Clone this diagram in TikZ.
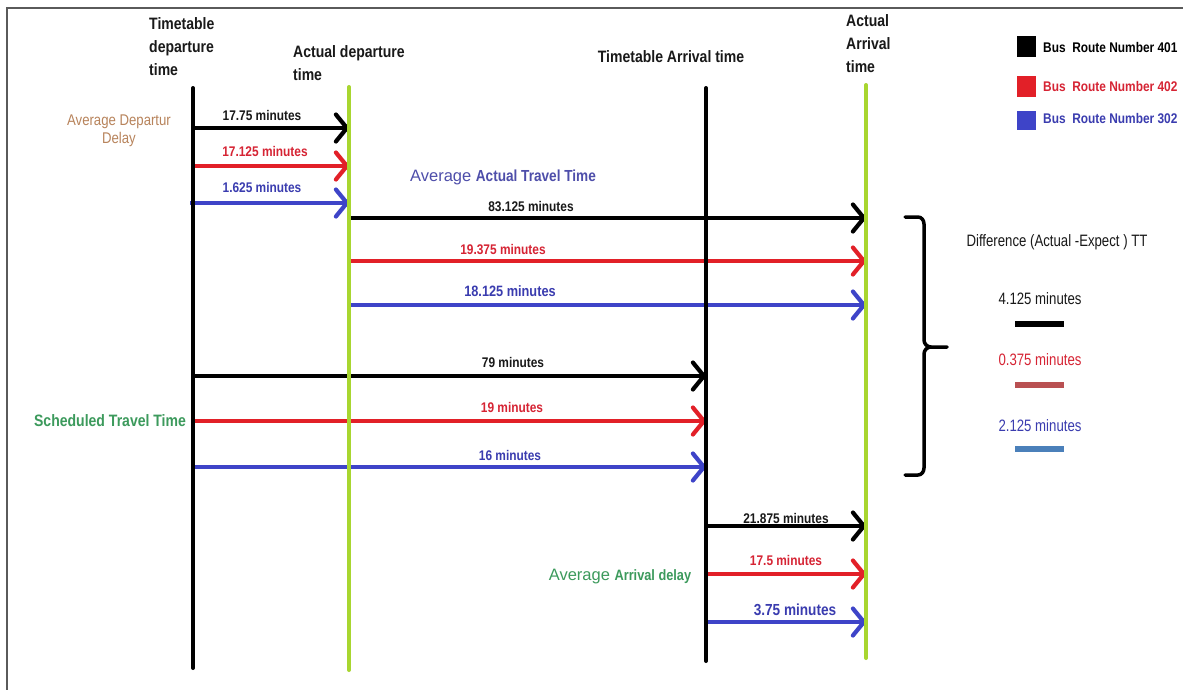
\documentclass[tikz,border=0pt]{standalone}
\usepackage{fontspec}
\setmainfont{Liberation Sans}
\newfontfamily\narrowfont[FakeStretch=0.8]{Liberation Sans}
\newfontfamily\condfont[FakeStretch=0.85]{Liberation Sans}
\usetikzlibrary{arrows.meta}
\definecolor{cred}{RGB}{226,32,40}
\definecolor{cblue}{RGB}{62,68,200}
\definecolor{cgreen}{RGB}{168,214,48}
\definecolor{tred}{RGB}{214,36,52}
\definecolor{tblue}{RGB}{58,60,175}
\definecolor{ttan}{RGB}{184,132,92}
\definecolor{tgreen}{RGB}{60,154,92}
\definecolor{tpurple}{RGB}{78,78,170}
\definecolor{tblk}{RGB}{25,25,25}
\definecolor{bred}{RGB}{185,80,82}
\definecolor{bblue}{RGB}{75,128,186}
\definecolor{frame}{RGB}{90,90,90}
\begin{document}
\begin{tikzpicture}[x=1pt,y=-1pt,
  vline/.style={line width=4pt,line cap=round},
  arr/.style={line width=4pt,-{Straight Barb[length=11pt,width=27pt,line width=4.2pt,round]}},
  head/.style={font=\condfont\bfseries\fontsize{16.5}{23}\selectfont,text=tblk,inner sep=0pt,align=left},
  lbl/.style={font=\condfont\bfseries\fontsize{14}{16}\selectfont,inner sep=0pt},
  leg/.style={font=\condfont\bfseries\fontsize{14}{16}\selectfont,inner sep=0pt,anchor=west},
  diff/.style={font=\narrowfont\fontsize{16.5}{18}\selectfont,inner sep=0pt},
  bar/.style={line width=6pt}]
\useasboundingbox (0,0) rectangle (1183,689);
\fill[white] (0,0) rectangle (1183,689);
% frame
\coordinate (fbl) at (7,700);
\coordinate (ftl) at (7,8);
\coordinate (ftr) at (1190,8);
\draw[frame,line width=1.5pt] (fbl) -- (ftl) -- (ftr);

% vertical time lines
\coordinate (Atop) at (193,88);  \coordinate (Abot) at (193,668);
\coordinate (Btop) at (349,87);  \coordinate (Bbot) at (349,670);
\coordinate (Ctop) at (706,88);  \coordinate (Cbot) at (706,661);
\coordinate (Dtop) at (866,85);  \coordinate (Dbot) at (866,658);

% rows
\coordinate (r1) at (0,128);
\coordinate (r2) at (0,166);
\coordinate (r3) at (0,203);
\coordinate (r4) at (0,218);
\coordinate (r5) at (0,261);
\coordinate (r6) at (0,305);
\coordinate (r7) at (0,376);
\coordinate (r8) at (0,421);
\coordinate (r9) at (0,467);
\coordinate (r10) at (0,526);
\coordinate (r11) at (0,574);
\coordinate (r12) at (0,622);

% departure delay
\draw[arr,black] (Atop |- r1) -- (Btop |- r1);
\draw[arr,cred]  (Atop |- r2) -- (Btop |- r2);
\draw[arr,cblue] ([xshift=-3pt]Atop |- r3) -- (Btop |- r3);
% actual travel time
\draw[arr,black] (Btop |- r4) -- (Dtop |- r4);
\draw[arr,cred]  (Btop |- r5) -- (Dtop |- r5);
\draw[arr,cblue] (Btop |- r6) -- (Dtop |- r6);
% scheduled travel time
\draw[arr,black] (Atop |- r7) -- (Ctop |- r7);
\draw[arr,cred]  (Atop |- r8) -- (Ctop |- r8);
\draw[arr,cblue] (Atop |- r9) -- (Ctop |- r9);
% arrival delay
\draw[arr,black] (Ctop |- r10) -- (Dtop |- r10);
\draw[arr,cred]  (Ctop |- r11) -- (Dtop |- r11);
\draw[arr,cblue] (Ctop |- r12) -- (Dtop |- r12);

\draw[vline,black]  (Atop) -- (Abot);
\draw[vline,cgreen] (Btop) -- (Bbot);
\draw[vline,black]  (Ctop) -- (Cbot);
\draw[vline,cgreen] (Dtop) -- (Dbot);

% headers
\node[head,anchor=west] (hA) at (149,47) {Timetable\\departure\\time};
\node[head,anchor=west] (hB) at (293,63.5) {Actual departure\\time};
\node[head] (hC) at (671,57) {Timetable Arrival time};
\node[head,anchor=west] (hD) at (846,44) {Actual\\Arrival\\time};

% group labels
\node[font=\condfont\fontsize{15.5}{18}\selectfont,text=ttan,align=center,inner sep=0pt] (gdep) at (119,131) {Average Departur\\Delay};
\node[inner sep=0pt,text=tpurple] (gatt) at (503,177) {\fontsize{16.5}{18}\selectfont Average \condfont\bfseries\fontsize{16}{18}\selectfont Actual Travel Time};
\node[inner sep=0pt,text=tgreen,font=\condfont\bfseries\fontsize{16.5}{18}\selectfont] (gsch) at (110,421) {Scheduled Travel Time};
\node[inner sep=0pt,text=tgreen] (garr) at (620,577) {\fontsize{16.5}{18}\selectfont Average \condfont\bfseries\fontsize{15}{18}\selectfont Arrival delay};

% arrow labels
\node[lbl,text=tblk]  (l1)  at (262,115) {17.75 minutes};
\node[lbl,text=tred]  (l2)  at (265,151) {17.125 minutes};
\node[lbl,text=tblue] (l3)  at (262,187) {1.625 minutes};
\node[lbl,text=tblk]  (l4)  at (531,206) {83.125 minutes};
\node[lbl,text=tred]  (l5)  at (503,249) {19.375 minutes};
\node[lbl,text=tblue,font=\condfont\bfseries\fontsize{15}{16}\selectfont] (l6)  at (510,291) {18.125 minutes};
\node[lbl,text=tblk]  (l7)  at (513,362) {79 minutes};
\node[lbl,text=tred]  (l8)  at (512,407) {19 minutes};
\node[lbl,text=tblue] (l9)  at (510,455) {16 minutes};
\node[lbl,text=tblk]  (l10) at (786,518) {21.875 minutes};
\node[lbl,text=tred]  (l11) at (786,560) {17.5 minutes};
\node[lbl,text=tblue,font=\condfont\bfseries\fontsize{16}{16}\selectfont] (l12) at (795,610) {3.75 minutes};

% legend
\fill[black] (1017,36) rectangle (1036,57);
\fill[cred]  (1017,76) rectangle (1036,97);
\fill[cblue] (1017,111) rectangle (1036,130);
\node[leg,text=black] (k1) at (1043,47) {Bus\ \ Route Number 401};
\node[leg,text=tred]  (k2) at (1043,86) {Bus\ \ Route Number 402};
\node[leg,text=tblue] (k3) at (1043,119) {Bus\ \ Route Number 302};

% brace
\coordinate (bt) at (905,217);
\coordinate (bm) at (947,347);
\coordinate (bb) at (905,475);
\draw[line width=3.5pt,line cap=round,line join=round]
  (bt) -- (918,217) to[out=0,in=90] (924,224) -- (924,340)
  to[out=-90,in=180] (931,347) -- (bm);
\draw[line width=3.5pt,line cap=round,line join=round]
  (931,347) to[out=180,in=90] (924,354) -- (924,468)
  to[out=-90,in=0] (918,475) -- (bb);

% difference
\node[diff,text=tblk]  (dt) at (1057,242) {Difference (Actual -Expect ) TT};
\node[diff,text=tblk]  (d1) at (1040,299) {4.125 minutes};
\node[diff,text=tred]  (d2) at (1040,360) {0.375 minutes};
\node[diff,text=tblue] (d3) at (1040,426) {2.125 minutes};
\draw[bar,black] (1015,324) -- (1064,324);
\draw[bar,bred]  (1015,385) -- (1064,385);
\draw[bar,bblue] (1015,449) -- (1064,449);
\end{tikzpicture}
\end{document}
